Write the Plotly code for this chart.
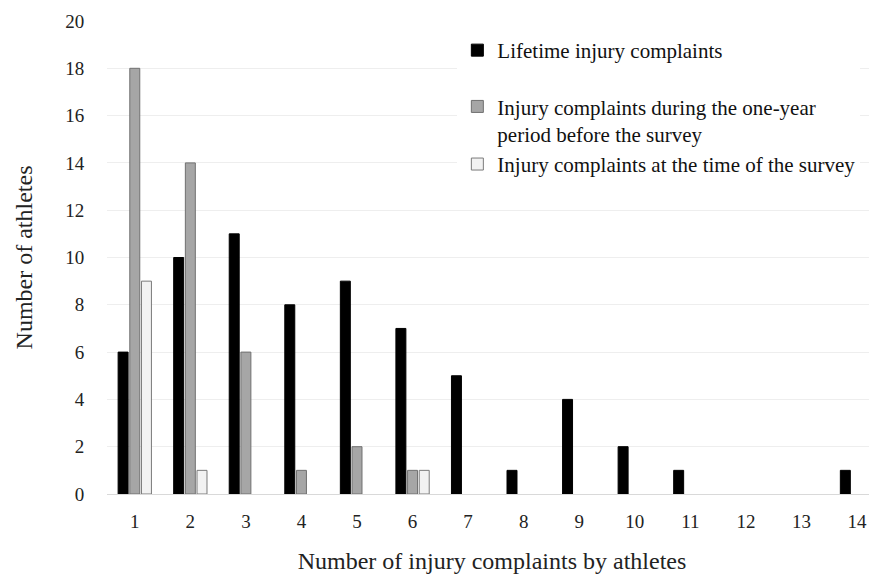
import plotly.graph_objects as go

categories = list(range(1, 15))
tick_labels = [str(c) for c in categories]
lifetime = [6, 10, 11, 8, 9, 7, 5, 1, 4, 2, 1, None, None, 1]
one_year = [18, 14, 6, 1, 2, 1, None, None, None, None, None, None, None, None]
at_survey = [9, 1, None, None, None, 1, None, None, None, None, None, None, None, None]
y_ticks = list(range(0, 21, 2))

FONT = "Liberation Serif"

fig = go.Figure()
fig.add_trace(go.Bar(
    x=categories, y=lifetime, name="Lifetime injury complaints",
    marker=dict(color="#000000", line=dict(color="#000000", width=1)),
    legendgroup="a",
))
fig.add_trace(go.Bar(
    x=categories, y=one_year,
    name="Injury complaints during the one-year<br>period before the survey",
    marker=dict(color="#a6a6a6", line=dict(color="#707070", width=1)),
    legendgroup="b",
))
fig.add_trace(go.Bar(
    x=categories, y=at_survey, name="Injury complaints at the time of the survey",
    marker=dict(color="#f2f2f2", line=dict(color="#7a7a7a", width=1)),
    legendgroup="b",
))

fig.update_layout(
    width=869, height=571,
    margin=dict(l=98.5, r=0, t=13, b=85, autoexpand=False),
    paper_bgcolor="white", plot_bgcolor="white",
    barmode="group", bargap=0.37, bargroupgap=0.145,
    font=dict(family=FONT, size=19, color="#222222"),
    showlegend=True,
    legend=dict(
        x=0.455, y=0.981, xanchor="left", yanchor="top",
        bgcolor="white", borderwidth=0,
        font=dict(family=FONT, size=21, color="#111111"),
        tracegroupgap=26, valign="top",
        traceorder="grouped",
    ),
    xaxis=dict(
        range=[0.5, 14.36], tickmode="array", tickvals=categories, ticktext=tick_labels,
        showgrid=False, zeroline=False, showline=False, automargin=False,
        ticks="outside", ticklen=10, tickcolor="rgba(0,0,0,0)",
        title=dict(text="Number of injury complaints by athletes", standoff=21,
                   font=dict(family=FONT, size=24)),
        tickfont=dict(family=FONT, size=19),
    ),
    yaxis=dict(
        range=[0, 20], tickmode="array", tickvals=y_ticks, automargin=False,
        showgrid=True, gridcolor="#eeeeee", gridwidth=1,
        zeroline=True, zerolinecolor="#d9d9d9", zerolinewidth=1,
        showline=False,
        ticks="outside", ticklen=18, tickcolor="rgba(0,0,0,0)",
        title=dict(text="Number of athletes", standoff=25,
                   font=dict(family=FONT, size=24)),
        tickfont=dict(family=FONT, size=19),
    ),
)

fig.write_html("out.html")
